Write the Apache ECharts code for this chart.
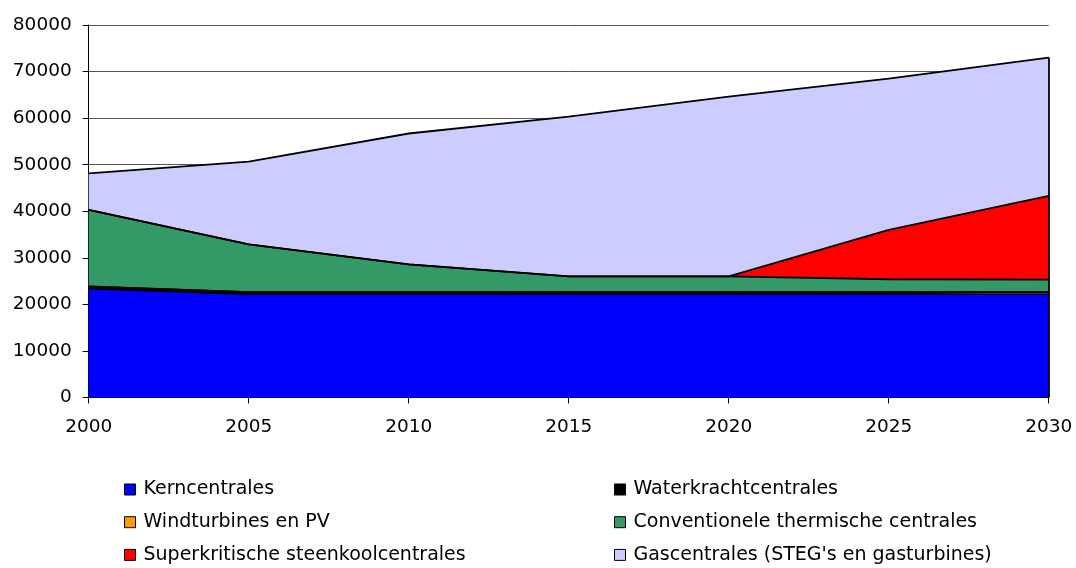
<!DOCTYPE html>
<html>
<head>
<meta charset="utf-8">
<title>Opgesteld vermogen 2000-2030</title>
<script src="https://cdn.jsdelivr.net/npm/echarts@6/dist/echarts.min.js"></script>
<style>
  html, body { margin: 0; padding: 0; background: #fff; }
  #chart { width: 1076px; height: 568px; }
</style>
</head>
<body>
<div id="chart"></div>
<script>
// Years on the horizontal axis
const years = ['2000', '2005', '2010', '2015', '2020', '2025', '2030'];

// Installed capacity per technology (MW), stacked bottom to top
const kerncentrales = [23400, 22200, 22200, 22200, 22200, 22200, 22200];
const waterkracht = [400, 400, 400, 400, 400, 400, 400];
const windPV = [50, 50, 50, 50, 50, 50, 50];
const conventioneel = [16450, 10250, 5950, 3350, 3350, 2750, 2650];
const superkritisch = [0, 0, 0, 0, 0, 10600, 18000];
const gascentrales = [7850, 17750, 28100, 34300, 38600, 32500, 29700];

// Value axis
const yMin = 0, yMax = 80000, yStep = 10000;

const FONT = 'DejaVu Sans';

const layers = [
  { name: 'Kerncentrales', data: kerncentrales, color: '#0000FF' },
  { name: 'Waterkrachtcentrales', data: waterkracht, color: '#000000' },
  { name: 'Windturbines en PV', data: windPV, color: '#FF9900' },
  { name: 'Conventionele thermische centrales', data: conventioneel, color: '#339966' },
  { name: 'Superkritische steenkoolcentrales', data: superkritisch, color: '#FF0000' },
  { name: "Gascentrales (STEG's en gasturbines)", data: gascentrales, color: '#CCCCFF' }
];

// Stack total in the last year, for the closing edge on the right
const last = years.length - 1;
const lastTotal = layers.reduce((s, l) => s + l.data[last], 0);

const series = layers.map((l, i) => {
  const s = {
    name: l.name,
    type: 'line',
    stack: 'total',
    data: l.data,
    symbol: 'none',
    smooth: false,
    lineStyle: { color: '#000', width: 1.8 },
    areaStyle: { color: l.color, opacity: 1 },
    itemStyle: { color: l.color, borderColor: '#000', borderWidth: 1 },
    emphasis: { disabled: true }
  };
  if (i === layers.length - 1) {
    s.markLine = {
      silent: true,
      symbol: ['none', 'none'],
      label: { show: false },
      lineStyle: { color: '#000', width: 1.8, type: 'solid' },
      data: [[
        { coord: [years[last], yMin] },
        { coord: [years[last], lastTotal] }
      ]]
    };
  }
  return s;
});

const legendCommon = {
  orient: 'vertical',
  top: 479.5,
  padding: 0,
  itemWidth: 11,
  itemHeight: 11,
  itemGap: 12.7,
  icon: 'rect',
  selectedMode: false,
  itemStyle: { borderColor: '#000', borderWidth: 1 },
  textStyle: { fontFamily: FONT, fontSize: 19, color: '#000', lineHeight: 20, padding: [0, 0, 0, 3] }
};

const option = {
  animation: false,
  backgroundColor: '#fff',
  grid: { left: 88.7, right: 27.3, top: 25, bottom: 170.5, containLabel: false },
  xAxis: {
    type: 'category',
    data: years,
    boundaryGap: false,
    axisLine: { show: true, lineStyle: { color: '#000', width: 1 } },
    axisTick: { show: true, inside: false, length: 6, lineStyle: { color: '#000' } },
    axisLabel: { fontFamily: FONT, fontSize: 18.5, color: '#000', margin: 20 },
    splitLine: { show: false }
  },
  yAxis: {
    type: 'value',
    min: yMin,
    max: yMax,
    interval: yStep,
    axisLine: { show: true, lineStyle: { color: '#000', width: 1 } },
    axisTick: { show: true, inside: false, length: 6, lineStyle: { color: '#000' } },
    axisLabel: { fontFamily: FONT, fontSize: 18.5, color: '#000', margin: 17, formatter: v => String(v) },
    splitLine: { show: true, lineStyle: { color: '#555', width: 1 } }
  },
  legend: [
    Object.assign({}, legendCommon, {
      left: 124,
      data: [layers[0].name, layers[2].name, layers[4].name]
    }),
    Object.assign({}, legendCommon, {
      left: 614,
      data: [layers[1].name, layers[3].name, layers[5].name]
    })
  ],
  series: series
};

const chart = echarts.init(document.getElementById('chart'), null, { renderer: 'canvas' });
chart.setOption(option);
</script>
</body>
</html>
